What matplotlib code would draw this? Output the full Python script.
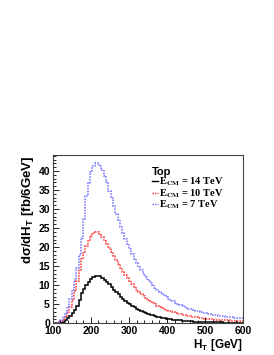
import numpy as np
import matplotlib
matplotlib.use("Agg")
import matplotlib.pyplot as plt
from matplotlib.lines import Line2D
from matplotlib.ticker import MultipleLocator

plt.rcParams["font.family"] = ["Liberation Sans", "DejaVu Sans"]
plt.rcParams["font.weight"] = "bold"
plt.rcParams["mathtext.fontset"] = "custom"
plt.rcParams["mathtext.rm"] = "Liberation Sans:bold"
plt.rcParams["mathtext.bf"] = "Liberation Sans:bold"
plt.rcParams["mathtext.it"] = "Liberation Sans:bold"

# histogram bins of 6 GeV, first one partially hidden below 100
BIN_EDGES = np.arange(96, 601, 6)

top_14tev = [
    0.0, 0.02, 0.05, 0.1, 0.2, 0.4, 0.8, 1.3, 1.9, 2.6,
    3.5, 4.5, 6.0, 8.0, 9.0, 10.0, 10.9, 11.6, 12.2, 12.5,
    12.5, 12.3, 11.9, 11.4, 10.8, 10.2, 9.5, 8.8, 8.2, 7.6,
    7.0, 6.4, 5.9, 5.4, 5.0, 4.6, 4.2, 3.85, 3.5, 3.2,
    2.95, 2.7, 2.45, 2.25, 2.05, 1.9, 1.75, 1.6, 1.45, 1.35,
    1.25, 1.15, 1.05, 0.97, 0.9, 0.83, 0.76, 0.7, 0.65, 0.6,
    0.55, 0.51, 0.47, 0.44, 0.41, 0.38, 0.35, 0.33, 0.31, 0.29,
    0.27, 0.25, 0.24, 0.22, 0.21, 0.2, 0.19, 0.18, 0.17, 0.16,
    0.15, 0.14, 0.13, 0.12,
]

top_10tev = [
    0.0, 0.05, 0.1, 0.3, 0.6, 1.0, 1.8, 3.0, 4.2, 6.0,
    8.5, 11.0, 14.0, 16.8, 18.5, 20.3, 21.8, 22.9, 23.6, 24.0,
    23.9, 23.4, 22.6, 21.7, 20.8, 19.8, 18.8, 17.8, 16.7, 15.6,
    14.6, 13.6, 12.7, 11.8, 11.0, 10.2, 9.5, 8.8, 8.2, 7.6,
    7.1, 6.6, 6.15, 5.75, 5.35, 5.0, 4.65, 4.35, 4.05, 3.8,
    3.55, 3.3, 3.1, 2.9, 2.7, 2.55, 2.4, 2.25, 2.1, 1.98,
    1.86, 1.75, 1.65, 1.55, 1.46, 1.38, 1.3, 1.23, 1.16, 1.1,
    1.04, 0.99, 0.94, 0.89, 0.85, 0.81, 0.77, 0.74, 0.71, 0.68,
    0.65, 0.62, 0.6, 0.58,
]

top_7tev = [
    0.0, 0.05, 0.15, 0.4, 0.9, 1.6, 2.8, 4.4, 6.5, 8.8,
    11.5, 14.5, 18.0, 22.5, 27.5, 33.5, 36.8, 39.8, 41.3, 42.1,
    42.0, 41.2, 40.2, 38.6, 37.0, 34.8, 32.8, 30.8, 28.8, 27.0,
    25.3, 23.7, 22.2, 20.8, 19.5, 18.2, 17.0, 15.9, 14.9, 13.9,
    13.0, 12.2, 11.4, 10.7, 10.0, 9.4, 8.8, 8.3, 7.8, 7.35,
    6.9, 6.5, 6.1, 5.75, 5.4, 5.1, 4.8, 4.55, 4.3, 4.05,
    3.85, 3.65, 3.45, 3.25, 3.1, 2.95, 2.8, 2.65, 2.5, 2.4,
    2.3, 2.2, 2.1, 2.0, 1.92, 1.84, 1.77, 1.7, 1.63, 1.57,
    1.51, 1.45, 1.4, 1.35,
]

DOTS = (0, (1.0, 0.8))
SERIES = [
    (top_14tev, "14", "black", "-"),
    (top_10tev, "10", "#ff3030", DOTS),
    (top_7tev, "7", "#7070ff", DOTS),
]


def main() -> None:
    fig = plt.figure(figsize=(2.74, 3.55), dpi=100)
    ax = fig.add_axes([0.1923, 0.0893, 0.888 - 0.1923, 0.5634 - 0.0893])

    handles = []
    labels = []
    for values, energy, color, style in SERIES:
        ax.stairs(values, BIN_EDGES, color=color, linestyle=style, linewidth=1.1, baseline=None)
        handles.append(Line2D([], [], color=color, linestyle=style, linewidth=1.0))
        labels.append(r"E$_{\mathbf{CM}}$ = " + energy + " TeV")

    ax.set_xlim(100, 600)
    ax.set_ylim(0, 44.2)
    ax.xaxis.set_major_locator(MultipleLocator(100))
    ax.xaxis.set_minor_locator(MultipleLocator(20))
    ax.yaxis.set_major_locator(MultipleLocator(5))
    ax.yaxis.set_minor_locator(MultipleLocator(1))
    ax.tick_params(which="both", direction="in", top=False, right=False, labelsize=7.5, pad=2)
    ax.tick_params(which="major", length=4, width=0.6)
    ax.tick_params(which="minor", length=2, width=0.6)
    for spine in ax.spines.values():
        spine.set_linewidth(0.8)
        spine.set_color("#444444")

    ax.set_xlabel(r"H$_{\mathbf{T}}$ [GeV]", fontsize=8.5, fontweight="bold", loc="right", labelpad=1)
    ax.set_ylabel(r"d$\sigma$/dH$_{\mathbf{T}}$ [fb/6GeV]", fontsize=9.5, fontweight="bold", loc="top", labelpad=2)

    leg = ax.legend(
        handles,
        labels,
        title="Top",
        loc="upper left",
        bbox_to_anchor=(0.52, 0.93),
        frameon=False,
        handlelength=0.55,
        handletextpad=0.15,
        labelspacing=-0.1,
        borderaxespad=0.0,
        borderpad=0.0,
        alignment="left",
        prop={"family": "Liberation Serif", "weight": "bold", "size": 7.5},
        title_fontproperties={"family": "Liberation Sans", "weight": "bold", "size": 8},
    )
    for text in leg.get_texts():
        text.set_math_fontfamily("stix")

    fig.savefig("out.png", dpi=100)
    plt.close(fig)


if __name__ == "__main__":
    main()
